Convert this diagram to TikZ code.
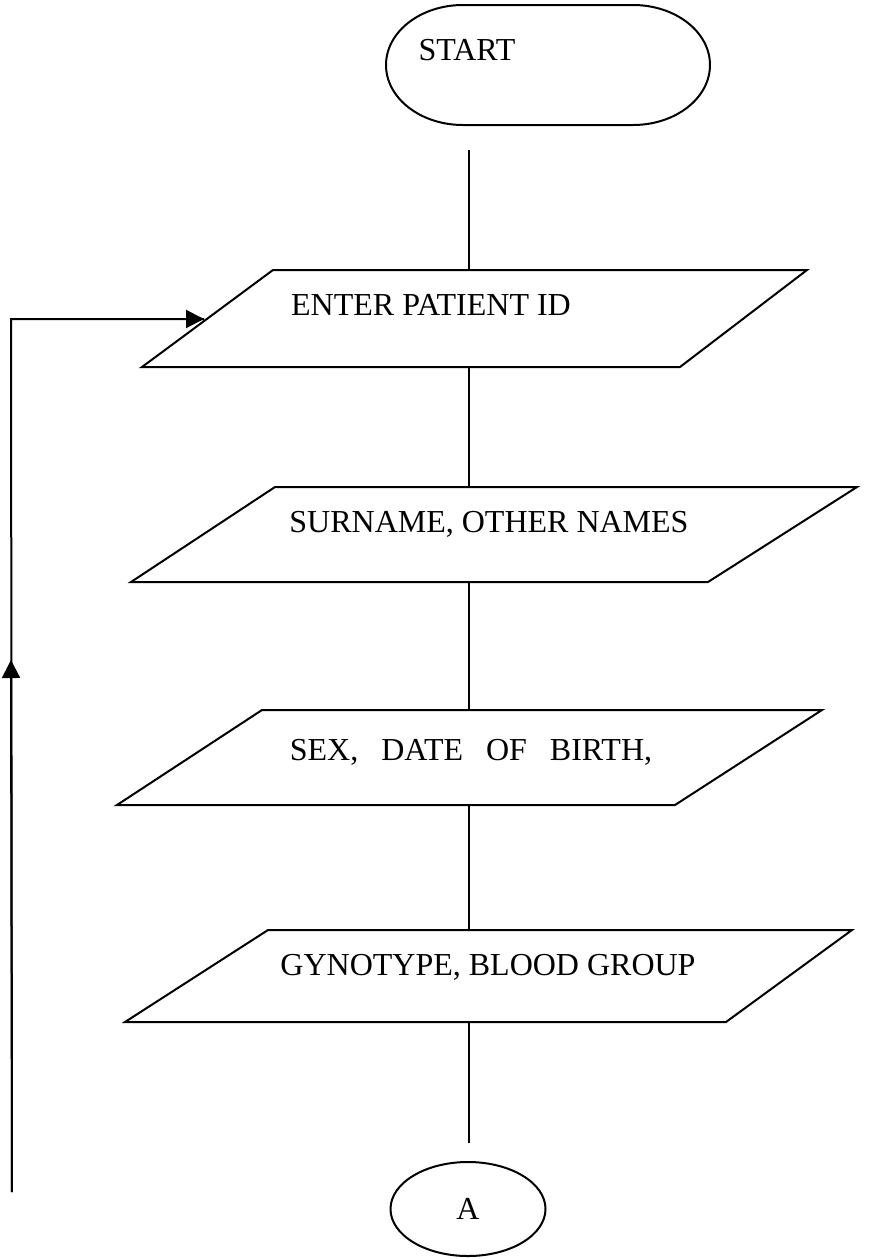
\documentclass[tikz,border=0pt]{standalone}
\usepackage{fontspec}
\setmainfont{Liberation Serif}
\usetikzlibrary{arrows.meta,shapes.geometric}
\begin{document}
\begin{tikzpicture}[x=0.5pt,y=-0.5pt,
  outline/.style={draw=black,line width=1pt,line join=miter},
  conn/.style={draw=black,line width=1pt},
  arr/.style={conn,-{Triangle[length=9pt,width=9pt]}},
  lbl/.style={font=\fontsize{16pt}{19pt}\selectfont,inner sep=0pt,anchor=base}]
\useasboundingbox (0,0) rectangle (883,1259);
% START terminal
\draw[outline] (463,5) -- (633,5) arc[start angle=-90,end angle=90,x radius=77,y radius=60]
  -- (463,125) arc[start angle=90,end angle=270,x radius=77,y radius=60] -- cycle;
\node[lbl] (start) at (467,60) {START};
\coordinate (s0) at (469,150);
% parallelograms
\draw[outline] (273,270) -- (807,270) -- (680,367) -- (142,367) -- cycle;
\coordinate (p1t) at (469,270); \coordinate (p1b) at (469,367);
\coordinate (p1in) at (204,319);
\node[lbl] (t1) at (431,315) {ENTER PATIENT ID};
\draw[outline] (275,487) -- (857,487) -- (708,582) -- (131,582) -- cycle;
\coordinate (p2t) at (469,487); \coordinate (p2b) at (469,582);
\node[lbl] (t2) at (489,532) {SURNAME, OTHER NAMES};
\draw[outline] (262,710) -- (822,710) -- (675,805) -- (117,805) -- cycle;
\coordinate (p3t) at (469,710); \coordinate (p3b) at (469,805);
\node[lbl] (t3) at (471,760) {SEX,\hspace{11.5pt}DATE\hspace{11.5pt}OF\hspace{11.5pt}BIRTH,};
\draw[outline] (268,930) -- (852,930) -- (726,1022) -- (125,1022) -- cycle;
\coordinate (p4t) at (469,930); \coordinate (p4b) at (469,1022);
\node[lbl] (t4) at (488,975) {GYNOTYPE, BLOOD GROUP};
% connector A
\coordinate (a0) at (469,1143);
\node[draw=black,line width=1pt,ellipse,minimum width=77.5pt,minimum height=47pt,inner sep=0pt] (A) at (468,1209) {};
\node[lbl] at (468,1219) {A};
% vertical connectors
\draw[conn] (s0) -- (p1t);
\draw[conn] (p1b) -- (p2t);
\draw[conn] (p2b) -- (p3t);
\draw[conn] (p3b) -- (p4t);
\draw[conn] (p4b) -- (a0);
% loop back
\coordinate (lb) at (12,1192);
\coordinate (lm) at (11,660);
\coordinate (lc) at (11,319);
\draw[conn] (lb) -- (lc) -- (p1in);
\draw[arr] (lb) -- (lm);
\draw[arr] (lc) -- (p1in);
\end{tikzpicture}
\end{document}
